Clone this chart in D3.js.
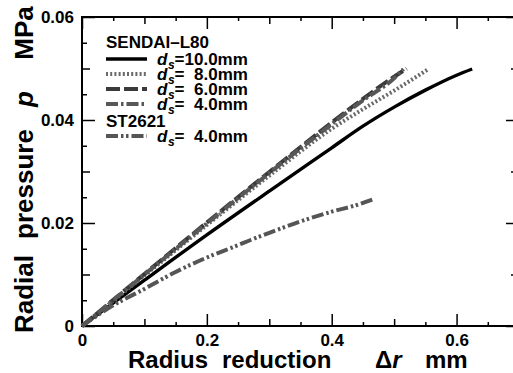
<!DOCTYPE html>
<html>
<head>
<meta charset="utf-8">
<script src="https://cdn.jsdelivr.net/npm/d3@7"></script>
<style>
  body { margin: 0; background: #fff; }
  text { font-family: "Liberation Sans", Arial, Helvetica, sans-serif; font-weight: bold; }
</style>
</head>
<body>
<div id="chart"></div>
<script>
// Radial pressure vs radius reduction

// Series data: [radius reduction (mm), radial pressure (MPa)]
var sendai10 = [ [0, 0], [0.1, 0.0089], [0.2, 0.0177], [0.3, 0.0262], [0.4, 0.0346],
  [0.45, 0.0388], [0.5, 0.0425], [0.55, 0.0458], [0.6, 0.0487], [0.625, 0.0499] ];
var sendai8 = [ [0, 0], [0.1, 0.0098], [0.2, 0.0196], [0.3, 0.0292], [0.4, 0.0383],
  [0.45, 0.0421], [0.5, 0.0457], [0.555, 0.0499] ];
var sendai6 = [ [0, 0], [0.1, 0.0101], [0.2, 0.0201], [0.3, 0.0299], [0.4, 0.0395],
  [0.45, 0.0441], [0.5, 0.0484], [0.52, 0.0500] ];
var sendai4 = [ [0, 0], [0.1, 0.0100], [0.2, 0.0199], [0.3, 0.0297], [0.4, 0.0392],
  [0.45, 0.0438], [0.5, 0.0481], [0.515, 0.0499] ];
var st4 = [ [0, 0], [0.05, 0.0040], [0.1, 0.0072], [0.15, 0.0105], [0.2, 0.0133],
  [0.25, 0.0157], [0.27, 0.0167], [0.3, 0.0181], [0.35, 0.0203],
  [0.4, 0.0222], [0.44, 0.0235], [0.466, 0.0246] ];

// Tick values
var xMajor = [ 0, 0.2, 0.4, 0.6 ];
var xMid = [ 0.1, 0.3, 0.5, 0.7 ];
var xMinor = [ 0.05, 0.15, 0.25, 0.35, 0.45, 0.55, 0.65 ];
var yMajor = [ 0, 0.02, 0.04, 0.06 ];
var yMid = [ 0.01, 0.03, 0.05 ];
var yMinor = [ 0.005, 0.015, 0.025, 0.035, 0.045, 0.055 ];

// Legend
var groupTitles = [ 'SENDAI\u2013L80', 'ST2621' ];
var legendLabels = [ '10.0mm', '8.0mm', '6.0mm', '4.0mm', '4.0mm' ];

var width = 513;
var height = 373;
var margin = { top: 17, right: -6, bottom: 47, left: 82 };
var innerW = width - margin.left - margin.right;
var innerH = height - margin.top - margin.bottom;

var x = d3.scaleLinear().domain( [ 0, 0.7 ] ).range( [ 0, innerW ] );
var y = d3.scaleLinear().domain( [ 0, 0.06 ] ).range( [ innerH, 0 ] );

// line styles per series
var styles = [
  { data: sendai10, color: '#000', w: 3.4, dash: null },
  { data: sendai8, color: '#6a6a6a', w: 4, dash: '2,2.2' },
  { data: sendai6, color: '#3a3a3a', w: 4, dash: '14,4' },
  { data: sendai4, color: '#585858', w: 4, dash: '12,3,2.5,3' },
  { data: st4, color: '#555', w: 4, dash: '12,3,2.5,2.5,2.5,3' }
];

var svg = d3.select( '#chart' ).append( 'svg' )
  .attr( 'width', width )
  .attr( 'height', height );

var g = svg.append( 'g' )
  .attr( 'transform', 'translate(' + margin.left + ',' + margin.top + ')' );

// ticks, three tiers on every side
function tier( vals, len, fmt ) {
  g.append( 'g' ).attr( 'transform', 'translate(0,' + innerH + ')' )
    .call( d3.axisBottom( x ).tickValues( vals ).tickSize( -len ).tickPadding( 8 )
      .tickFormat( fmt ? function( d ) { return d === 0 ? '0' : d3.format( '.1f' )( d ); } : '' ) );
  g.append( 'g' )
    .call( d3.axisTop( x ).tickValues( vals ).tickSize( -len ).tickFormat( '' ) );
}
function tierY( vals, len, fmt ) {
  g.append( 'g' )
    .call( d3.axisLeft( y ).tickValues( vals ).tickSize( -len ).tickPadding( 8 )
      .tickFormat( fmt ? function( d ) { return d === 0 ? '0' : d3.format( '.2f' )( d ); } : '' ) );
  g.append( 'g' ).attr( 'transform', 'translate(' + innerW + ',0)' )
    .call( d3.axisRight( y ).tickValues( vals ).tickSize( -len ).tickFormat( '' ) );
}
tier( xMajor, 12, true );
tier( xMid, 7 );
tier( xMinor, 4 );
tierY( yMajor, 13, true );
tierY( yMid, 8 );
tierY( yMinor, 5 );

g.selectAll( '.domain' ).remove();
g.selectAll( '.tick line' ).attr( 'stroke', '#000' ).attr( 'stroke-width', 1.5 );
g.selectAll( '.tick text' ).attr( 'fill', '#000' ).style( 'font-size', '17px' );

// frame
g.append( 'rect' )
  .attr( 'width', innerW ).attr( 'height', innerH )
  .attr( 'fill', 'none' ).attr( 'stroke', '#000' ).attr( 'stroke-width', 2 );

// curves
var line = d3.line()
  .x( function( d ) { return x( d[ 0 ] ); } )
  .y( function( d ) { return y( d[ 1 ] ); } )
  .curve( d3.curveMonotoneX );

g.selectAll( '.series' )
  .data( styles )
  .enter().append( 'path' )
  .attr( 'class', 'series' )
  .attr( 'fill', 'none' )
  .attr( 'stroke', function( d ) { return d.color; } )
  .attr( 'stroke-width', function( d ) { return d.w; } )
  .attr( 'stroke-dasharray', function( d ) { return d.dash; } )
  .attr( 'd', function( d ) { return line( d.data ); } );

// legend
var leg = svg.append( 'g' ).attr( 'class', 'legend' );
var rowY = [ 65, 80, 95, 110, 142 ];
leg.selectAll( '.gtitle' )
  .data( groupTitles )
  .enter().append( 'text' )
  .attr( 'x', 106 )
  .attr( 'y', function( d, i ) { return i === 0 ? 48 : 127; } )
  .style( 'font-size', '17px' )
  .text( function( d ) { return d; } );

var rows = leg.selectAll( '.row' )
  .data( styles )
  .enter().append( 'g' )
  .attr( 'transform', function( d, i ) { return 'translate(0,' + rowY[ i ] + ')'; } );

rows.append( 'line' )
  .attr( 'x1', 106 ).attr( 'x2', 147 )
  .attr( 'y1', -6 ).attr( 'y2', -6 )
  .attr( 'stroke', function( d ) { return d.color; } )
  .attr( 'stroke-width', function( d ) { return d.w; } )
  .attr( 'stroke-dasharray', function( d ) { return d.dash; } );

var lt = rows.append( 'text' )
  .attr( 'x', 157 )
  .style( 'font-size', '17px' );
lt.append( 'tspan' ).style( 'font-style', 'italic' ).text( 'd' );
lt.append( 'tspan' ).style( 'font-style', 'italic' ).style( 'font-size', '12px' )
  .attr( 'dx', 0.5 ).attr( 'dy', 4 ).text( 's' );
lt.append( 'tspan' ).attr( 'dy', -4 ).text( '=' );
lt.append( 'tspan' )
  .attr( 'dx', function( d, i ) { return i === 0 ? 0 : 9.5; } )
  .text( function( d, i ) { return legendLabels[ i ]; } );

// axis titles
var xt = svg.append( 'g' ).style( 'font-size', '24px' );
[ [ 'Radius', 128 ], [ 'reduction', 222 ], [ 'mm', 425 ] ].forEach( function( w ) {
  xt.append( 'text' ).attr( 'x', w[ 1 ] ).attr( 'y', 368 ).text( w[ 0 ] );
} );
var dr = xt.append( 'text' ).attr( 'x', 375 ).attr( 'y', 368 );
dr.append( 'tspan' ).text( '\u0394' );
dr.append( 'tspan' ).style( 'font-style', 'italic' ).text( 'r' );

var yt = svg.append( 'g' ).style( 'font-size', '26px' );
[ [ 'Radial', 294 ], [ 'pressure', 184 ], [ 'p', 99 ], [ 'MPa', 33 ] ].forEach( function( w ) {
  yt.append( 'text' )
    .attr( 'transform', 'translate(33,' + w[ 1 ] + ') rotate(-90)' )
    .attr( 'text-anchor', 'middle' )
    .style( 'font-style', w[ 0 ] === 'p' ? 'italic' : null )
    .text( w[ 0 ] );
} );
</script>
</body>
</html>
